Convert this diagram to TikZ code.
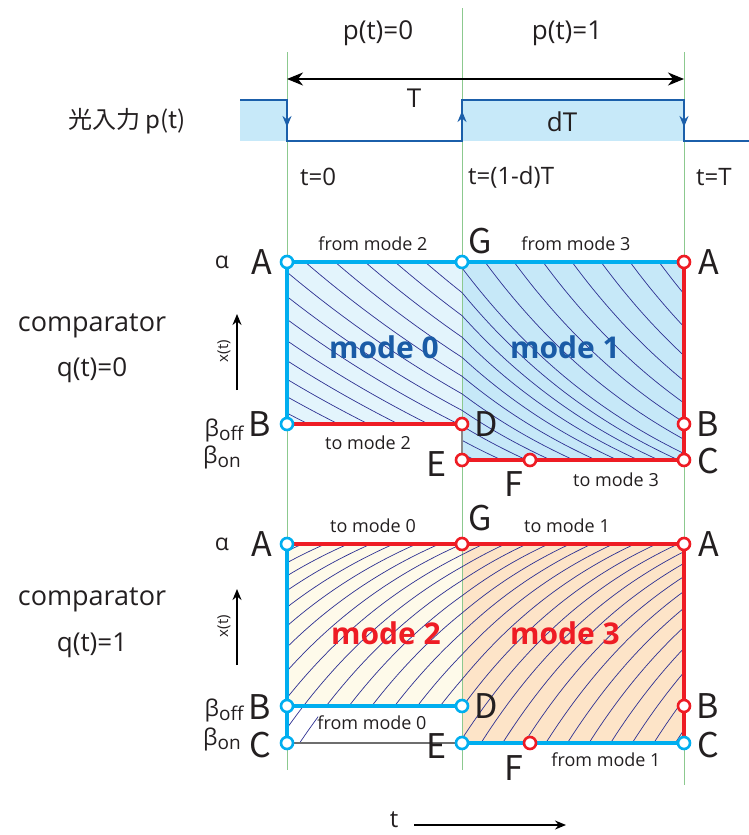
\documentclass[tikz,border=0pt]{standalone}
\usepackage{fontspec}
\setmainfont{Open Sans}
\newfontfamily\jp{Noto Sans CJK JP}
\usetikzlibrary{arrows.meta}
\definecolor{cyanE}{HTML}{00AEEF}
\definecolor{redE}{HTML}{EE1C24}
\definecolor{navyH}{HTML}{2E3192}
\definecolor{greenL}{HTML}{8CC98F}
\definecolor{pulseB}{HTML}{1B5FAA}
\definecolor{pulseF}{HTML}{C7E9F9}
\definecolor{fillZ}{HTML}{E3F4FC}
\definecolor{fillO}{HTML}{C6E8F8}
\definecolor{fillT}{HTML}{FEFAEA}
\definecolor{fillH}{HTML}{FDE4C8}
\definecolor{modeB}{HTML}{1A5BA6}
\definecolor{txt}{HTML}{231F20}
\definecolor{grayL}{HTML}{8A8A8A}
\tikzset{
  cy/.style={draw=cyanE, line width=4pt},
  rd/.style={draw=redE, line width=4pt},
  dotc/.style={circle, draw=cyanE, fill=white, line width=2.6pt, inner sep=0pt, minimum size=12pt},
  dotr/.style={circle, draw=redE, fill=white, line width=2.6pt, inner sep=0pt, minimum size=12pt},
  big/.style={text=txt, font=\jp\fontsize{34}{34}\selectfont, inner sep=0pt},
  hd/.style={text=txt, font=\fontsize{26}{26}\selectfont, inner sep=0pt},
  tlab/.style={text=txt, font=\fontsize{24}{24}\selectfont, inner sep=0pt, anchor=west},
  small/.style={text=txt, font=\fontsize{18}{18}\selectfont, inner sep=1pt},
  modet/.style={font=\fontsize{30}{30}\selectfont\bfseries, inner sep=0pt},
  greek/.style={text=txt, font=\fontsize{23}{23}\selectfont, inner sep=0pt},
  hatch/.style={draw=navyH, line width=0.7pt},
  grn/.style={draw=greenL, line width=0.9pt},
  pulse/.style={draw=pulseB, line width=2pt},
  parr/.style={pulseB, line width=2pt, -{Stealth[length=11pt,width=9pt]}},
  karr/.style={draw=black, line width=1.6pt, -{Stealth[length=11pt,width=9pt]}},
}
\newcommand{\bsub}[1]{β\raisebox{-4pt}{\fontsize{19}{19}\selectfont #1}}
\begin{document}
\begin{tikzpicture}[x=1pt,y=-1pt]
\useasboundingbox (0,0) rectangle (749,835);
% ---------- fills
\fill[fillZ] (287,262) rectangle (462,424);
\fill[fillO] (462,262) rectangle (684,460);
\fill[fillT] (287,544) rectangle (462,706);
\fill[fillH] (462,544) rectangle (684,743);
% ---------- pulse
\fill[pulseF] (240,100) rectangle (287,141);
\fill[pulseF] (462,100) rectangle (684,141);
% ---------- green time lines
\coordinate (g1t) at (287,52);  \coordinate (g1b) at (287,770);
\coordinate (g2t) at (462,8);   \coordinate (g2b) at (462,770);
\coordinate (g3t) at (684,52);  \coordinate (g3b) at (684,785);
\draw[grn] (g1t) -- (g1b);
\draw[grn] (g2t) -- (g2b);
\draw[grn] (g3t) -- (g3b);
% ---------- upper hatch
\begin{scope}
\clip (287,262) -- (684,262) -- (684,460) -- (462,460) -- (462,424) -- (287,424) -- cycle;
\foreach \xk in {485,514,...,659} {
  \pgfmathsetmacro\yg{560-298*exp((\xk-462)/220)}
  \draw[hatch] plot[domain=462:684,samples=40] (\x,{560-(560-(\yg))*exp(-(\x-462)/220)});
}
\foreach \xk in {455,425,...,65} {
  \pgfmathsetmacro\yg{650-388*exp((\xk-462)/450)}
  \draw[hatch] plot[domain=287:462,samples=40] (\x,{650-(650-(\yg))*exp(-(\x-462)/450)});
  \draw[hatch] plot[domain=462:684,samples=40] (\x,{560-(560-(\yg))*exp(-(\x-462)/220)});
}
\end{scope}
% ---------- lower hatch
\begin{scope}
\clip (287,544) -- (684,544) -- (684,743) -- (462,743) -- (462,706) -- (318,706) -- (318,743) -- (287,743) -- cycle;
\foreach \k in {-7,...,20} {
  \pgfmathsetmacro\cc{84*exp(0.12*\k)}
  \draw[hatch] plot[domain=287:462,samples=40] (\x,{460+\cc*exp(-(\x-462)/190)});
  \draw[hatch] plot[domain=462:684,samples=40] (\x,{460+\cc*exp(-(\x-462)/180)});
}
\end{scope}
% ---------- pulse line
\coordinate (q0) at (240,100); \coordinate (q1) at (287,100); \coordinate (q2) at (287,141);
\coordinate (q3) at (462,141); \coordinate (q4) at (462,100); \coordinate (q5) at (684,100);
\coordinate (q6) at (684,141); \coordinate (q7) at (749,141);
\draw[pulse, line join=miter] (q0) -- (q1) -- (q2) -- (q3) -- (q4) -- (q5) -- (q6) -- (q7);
\coordinate (a1s) at (287,104); \coordinate (a1e) at (287,127);
\coordinate (a2s) at (462,138); \coordinate (a2e) at (462,111);
\coordinate (a3s) at (684,104); \coordinate (a3e) at (684,127);
\draw[parr] (a1s) -- (a1e);
\draw[parr] (a2s) -- (a2e);
\draw[parr] (a3s) -- (a3e);
% ---------- period arrow
\coordinate (Tl) at (287,79); \coordinate (Tr) at (684,79);
\draw[black, line width=1.8pt, {Stealth[length=16pt,width=13pt,inset=5pt]}-{Stealth[length=16pt,width=13pt,inset=5pt]}] (Tl) -- (Tr);
% ---------- header texts
\node[hd] (p0) at (378,33) {p(t)=0};
\node[hd] (p1) at (567,33) {p(t)=1};
\node[hd] (Tlab) at (414,98) {T};
\node[hd] (dT) at (562,122) {dT};
\node[text=txt, font=\jp\fontsize{24}{24}\selectfont, inner sep=0pt] (inp) at (127,121) {光入力 p(t)};
\node[tlab] (t0) at (300,177) {t=0};
\node[tlab] (t1) at (468,177) {t=(1-d)T};
\node[tlab] (t2) at (696,177) {t=T};
% ---------- upper box coordinates
\coordinate (uA1) at (287,262); \coordinate (uG) at (462,262); \coordinate (uA2) at (684,262);
\coordinate (uB1) at (287,424); \coordinate (uD) at (462,424); \coordinate (uE) at (462,460);
\coordinate (uF) at (530,460); \coordinate (uB2) at (684,424); \coordinate (uC2) at (684,460);
\draw[cy] (uA1) -- (uG);
\draw[cy] (uG) -- (uA2);
\draw[cy] (uA1) -- (uB1);
\draw[rd] (uB1) -- (uD);
\draw[rd] (uE) -- (uF) -- (uC2);
\draw[rd] (uA2) -- (uB2) -- (uC2);
\draw[draw=grayL, line width=2.5pt] (uD) -- (uE);
\node[dotc] (nuA1) at (uA1) {};
\node[dotc] (nuG) at (uG) {};
\node[dotr] (nuA2) at (uA2) {};
\node[dotc] (nuB1) at (uB1) {};
\node[dotr] (nuD) at (uD) {};
\node[dotr] (nuE) at (uE) {};
\node[dotr] (nuF) at (uF) {};
\node[dotr] (nuB2) at (uB2) {};
\node[dotr] (nuC2) at (uC2) {};
% ---------- lower box coordinates
\coordinate (lA1) at (287,544); \coordinate (lG) at (462,544); \coordinate (lA2) at (684,544);
\coordinate (lB1) at (287,706); \coordinate (lD) at (462,706); \coordinate (lC1) at (287,743);
\coordinate (lE) at (462,743); \coordinate (lF) at (530,743); \coordinate (lB2) at (684,706);
\coordinate (lC2) at (684,743);
\draw[draw=grayL!80!black, line width=1.3pt] (lC1) -- (lE);
\draw[rd] (lA1) -- (lG);
\draw[rd] (lG) -- (lA2);
\draw[rd] (lA2) -- (lB2) -- (lC2);
\draw[cy] (lA1) -- (lB1) -- (lC1);
\draw[cy] (lB1) -- (lD);
\draw[cy] (lE) -- (lF) -- (lC2);
\node[dotc] (nlA1) at (lA1) {};
\node[dotr] (nlG) at (lG) {};
\node[dotr] (nlA2) at (lA2) {};
\node[dotc] (nlB1) at (lB1) {};
\node[dotc] (nlD) at (lD) {};
\node[dotc] (nlC1) at (lC1) {};
\node[dotc] (nlE) at (lE) {};
\node[dotr] (nlF) at (lF) {};
\node[dotr] (nlB2) at (lB2) {};
\node[dotc] (nlC2) at (lC2) {};
% ---------- point letters upper
\node[big] (LuA1) at (262,262) {A};
\node[big] (LuG) at (480,241) {G};
\node[big] (LuA2) at (709,262) {A};
\node[big] (LuB1) at (260,424) {B};
\node[big] (LuD) at (486,424) {D};
\node[big] (LuE) at (437,464) {E};
\node[big] (LuF) at (514,484) {F};
\node[big] (LuB2) at (708,424) {B};
\node[big] (LuC2) at (708,461) {C};
% ---------- point letters lower
\node[big] (LlA1) at (262,544) {A};
\node[big] (LlG) at (480,518) {G};
\node[big] (LlA2) at (709,544) {A};
\node[big] (LlB1) at (260,707) {B};
\node[big] (LlC1) at (260,745) {C};
\node[big] (LlD) at (486,706) {D};
\node[big] (LlE) at (437,746) {E};
\node[big] (LlF) at (514,768) {F};
\node[big] (LlB2) at (708,706) {B};
\node[big] (LlC2) at (708,745) {C};
% ---------- greek levels
\node[greek] (al1) at (222,262) {α};
\node[greek] (bo1) at (224,430) {\bsub{off}};
\node[greek] (bn1) at (222,457) {\bsub{on}};
\node[greek] (al2) at (222,544) {α};
\node[greek] (bo2) at (224,710) {\bsub{off}};
\node[greek] (bn2) at (222,739) {\bsub{on}};
% ---------- edge labels
\node[small] (e1) at (373,244) {from mode 2};
\node[small] (e2) at (576,244) {from mode 3};
\node[small] (e3) at (368,443) {to mode 2};
\node[small] (e4) at (616,480) {to mode 3};
\node[small] (e5) at (373,526) {to mode 0};
\node[small] (e6) at (567,526) {to mode 1};
\node[small] (e7) at (372,723) {from mode 0};
\node[small] (e8) at (606,760) {from mode 1};
% ---------- mode labels
\node[modet, text=modeB] (m0) at (384,347) {mode 0};
\node[modet, text=modeB] (m1) at (565,347) {mode 1};
\node[modet, text=redE] (m2) at (386,633) {mode 2};
\node[modet, text=redE] (m3) at (565,633) {mode 3};
% ---------- left labels
\node[hd, font=\fontsize{27}{27}\selectfont] (c1) at (92,326) {comparator};
\node[hd] (q1) at (92,370) {q(t)=0};
\node[hd, font=\fontsize{27}{27}\selectfont] (c2) at (92,600) {comparator};
\node[hd] (q2) at (92,645) {q(t)=1};
% ---------- x(t) arrows
\coordinate (x1s) at (237,390); \coordinate (x1e) at (237,314);
\draw[karr] (x1s) -- (x1e);
\node[text=txt, font=\fontsize{15}{15}\selectfont, rotate=90, inner sep=0pt] (x1) at (224,351) {x(t)};
\coordinate (x2s) at (237,665); \coordinate (x2e) at (237,589);
\draw[karr] (x2s) -- (x2e);
\node[text=txt, font=\fontsize{15}{15}\selectfont, rotate=90, inner sep=0pt] (x2) at (224,626) {x(t)};
% ---------- t axis
\node[text=txt, font=\fontsize{24}{24}\selectfont, inner sep=0pt] (tt) at (394,820) {t};
\coordinate (ts) at (414,825); \coordinate (te) at (566,825);
\draw[karr] (ts) -- (te);
\end{tikzpicture}
\end{document}
